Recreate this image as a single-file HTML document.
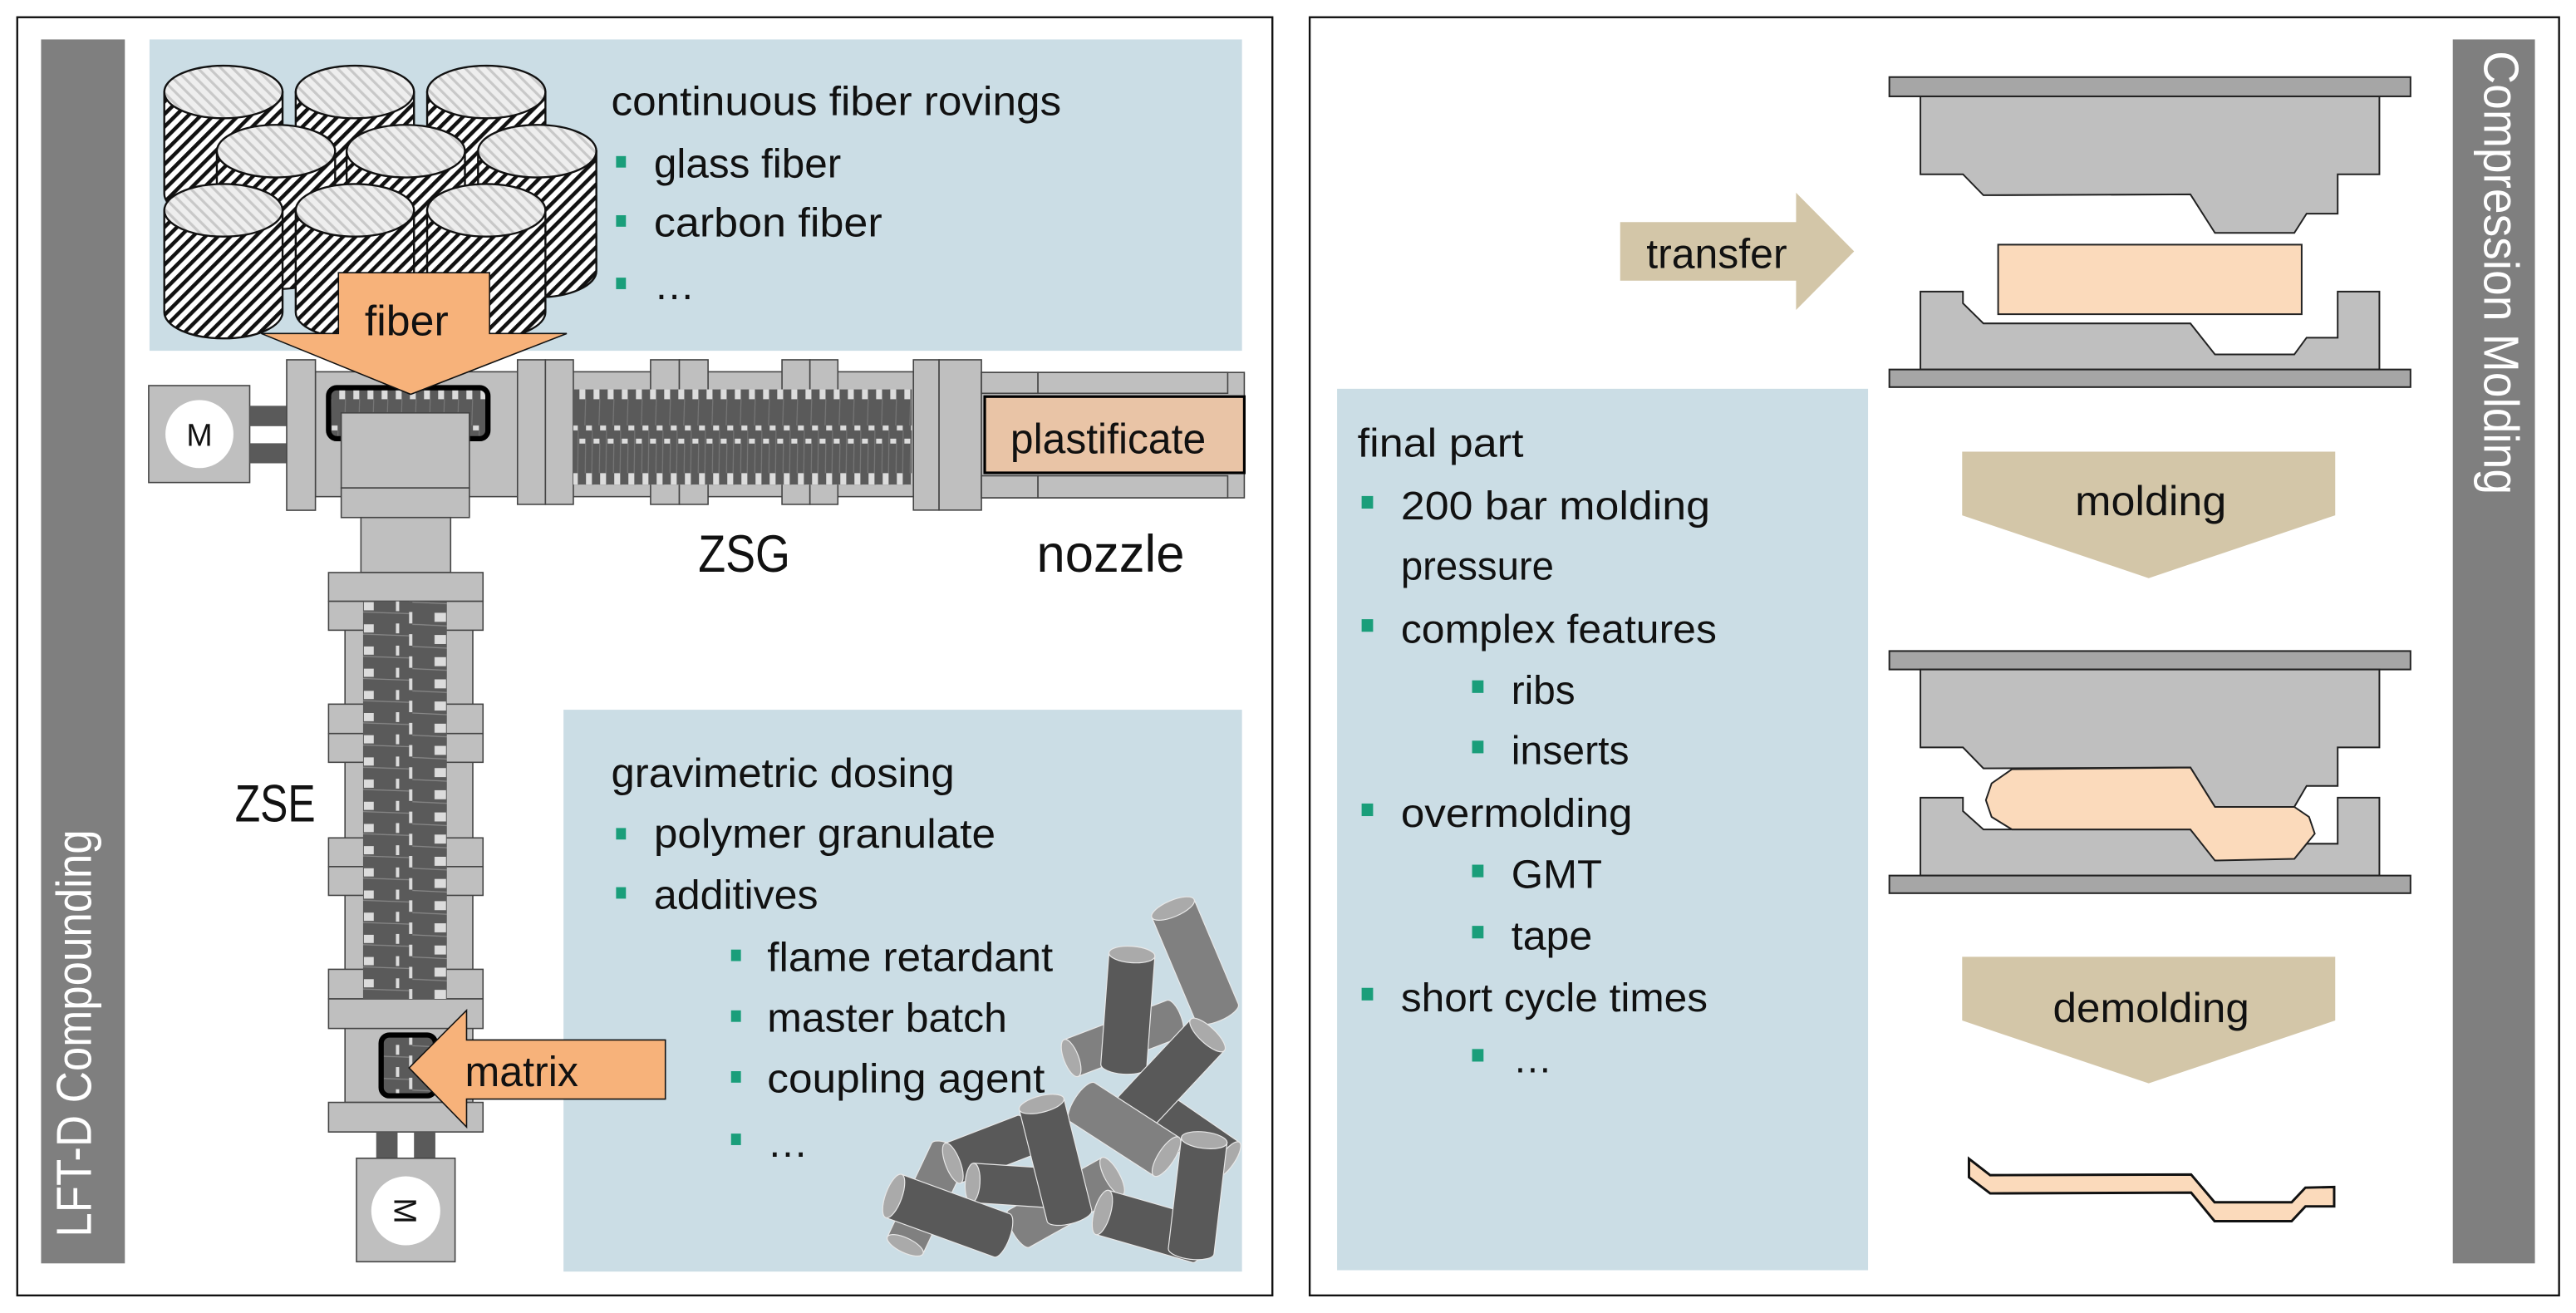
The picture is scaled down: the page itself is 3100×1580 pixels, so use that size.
<!DOCTYPE html>
<html><head><meta charset="utf-8"><style>
html,body{margin:0;padding:0;background:#fff}
svg{display:block}
text{font-family:"Liberation Sans",sans-serif;fill:#111}
</style></head><body>
<svg width="3100" height="1580" viewBox="0 0 1568 799.2" preserveAspectRatio="none" xmlns="http://www.w3.org/2000/svg">
<defs>
<pattern id="hatch" width="5.4" height="5.4" patternUnits="userSpaceOnUse" patternTransform="rotate(45)">
<rect width="5.4" height="5.4" fill="#fff"/><rect width="2.3" height="5.4" fill="#111"/></pattern>
<pattern id="hatchL" width="5" height="5" patternUnits="userSpaceOnUse" patternTransform="rotate(-45)">
<rect width="5" height="5" fill="#eeeeee"/><rect width="1.6" height="5" fill="#c8c8c8"/></pattern>
<pattern id="screwH" x="335" y="237" width="8.6" height="58" patternUnits="userSpaceOnUse">
<rect width="8.6" height="58" fill="#5a5a5a"/>
<rect x="0.5" y="0" width="3.6" height="6" fill="#dcdcdc"/>
<rect x="4.5" y="22" width="3.6" height="3" fill="#dcdcdc"/>
<rect x="0.5" y="30" width="3.6" height="3" fill="#dcdcdc"/>
<rect x="4.5" y="51" width="3.6" height="7" fill="#dcdcdc"/>
<path d="M4.3 6 L3.8 22 M8.4 25 L8 51 M4.3 33 L4 51" stroke="#777" stroke-width="0.6"/>
</pattern>
<pattern id="screwV" x="221" y="366" width="51" height="13.5" patternUnits="userSpaceOnUse">
<rect width="51" height="13.5" fill="#5a5a5a"/>
<rect x="0.5" y="0.5" width="6" height="5" fill="#dcdcdc"/>
<rect x="20" y="0" width="2" height="6" fill="#dcdcdc"/>
<rect x="43.5" y="7" width="7" height="5.5" fill="#dcdcdc"/>
<rect x="28" y="6.5" width="2" height="7" fill="#dcdcdc"/>
<path d="M0 6.5 L28 7.5 M30 0.5 L51 1.5" stroke="#888" stroke-width="0.6"/>
</pattern>
</defs>

<!-- ================= LEFT PANEL ================= -->
<rect x="10.5" y="10.5" width="764" height="778" fill="#fff" stroke="#111" stroke-width="1.2"/>
<rect x="25" y="24" width="51" height="745" fill="#7f7f7f"/>
<text transform="translate(55.5,753) rotate(-90)" font-size="30" fill="#fff" style="fill:#fff" textLength="248" lengthAdjust="spacingAndGlyphs">LFT-D Compounding</text>

<rect x="91" y="24" width="665" height="189.5" fill="#cbdde5"/>
<rect x="343" y="432" width="413" height="342" fill="#cbdde5"/>

<!-- top list -->
<text x="372" y="70" font-size="25" textLength="274" lengthAdjust="spacingAndGlyphs">continuous fiber rovings</text>
<rect x="375" y="95" width="6" height="7" fill="#1a9e7a"/>
<text x="398" y="108" font-size="25" textLength="114" lengthAdjust="spacingAndGlyphs">glass fiber</text>
<rect x="375" y="131" width="6" height="7" fill="#1a9e7a"/>
<text x="398" y="144" font-size="25" textLength="139" lengthAdjust="spacingAndGlyphs">carbon fiber</text>
<rect x="375" y="169" width="6" height="7" fill="#1a9e7a"/>
<text x="398" y="182" font-size="25">…</text>

<!-- bottom list -->
<text x="372" y="479" font-size="25" textLength="209" lengthAdjust="spacingAndGlyphs">gravimetric dosing</text>
<rect x="375" y="504" width="6" height="7" fill="#1a9e7a"/>
<text x="398" y="516" font-size="25" textLength="208" lengthAdjust="spacingAndGlyphs">polymer granulate</text>
<rect x="375" y="540" width="6" height="7" fill="#1a9e7a"/>
<text x="398" y="553" font-size="25" textLength="100" lengthAdjust="spacingAndGlyphs">additives</text>
<rect x="445" y="578" width="6" height="7" fill="#1a9e7a"/>
<text x="467" y="591" font-size="25" textLength="174" lengthAdjust="spacingAndGlyphs">flame retardant</text>
<rect x="445" y="615" width="6" height="7" fill="#1a9e7a"/>
<text x="467" y="628" font-size="25" textLength="146" lengthAdjust="spacingAndGlyphs">master batch</text>
<rect x="445" y="652" width="6" height="7" fill="#1a9e7a"/>
<text x="467" y="665" font-size="25" textLength="169" lengthAdjust="spacingAndGlyphs">coupling agent</text>
<rect x="445" y="690" width="6" height="7" fill="#1a9e7a"/>
<text x="467" y="704" font-size="25">…</text>

<!-- fiber cylinders -->
<g stroke="#111" stroke-width="1.2">
<!-- back row -->
<path d="M100 56 L100 118 A36 16 0 0 0 172 118 L172 56 Z" fill="url(#hatch)"/><ellipse cx="136" cy="56" rx="36" ry="16" fill="url(#hatchL)"/>
<path d="M180 56 L180 118 A36 16 0 0 0 252 118 L252 56 Z" fill="url(#hatch)"/><ellipse cx="216" cy="56" rx="36" ry="16" fill="url(#hatchL)"/>
<path d="M260 56 L260 118 A36 16 0 0 0 332 118 L332 56 Z" fill="url(#hatch)"/><ellipse cx="296" cy="56" rx="36" ry="16" fill="url(#hatchL)"/>
<!-- middle row -->
<path d="M132 92 L132 160 A36 16 0 0 0 204 160 L204 92 Z" fill="url(#hatch)"/><ellipse cx="168" cy="92" rx="36" ry="16" fill="url(#hatchL)"/>
<path d="M211 92 L211 160 A36 16 0 0 0 283 160 L283 92 Z" fill="url(#hatch)"/><ellipse cx="247" cy="92" rx="36" ry="16" fill="url(#hatchL)"/>
<path d="M291 92 L291 165 A36 16 0 0 0 363 165 L363 92 Z" fill="url(#hatch)"/><ellipse cx="327" cy="92" rx="36" ry="16" fill="url(#hatchL)"/>
<!-- front row -->
<path d="M100 128 L100 190 A36 16 0 0 0 172 190 L172 128 Z" fill="url(#hatch)"/><ellipse cx="136" cy="128" rx="36" ry="16" fill="url(#hatchL)"/>
<path d="M180 128 L180 190 A36 16 0 0 0 252 190 L252 128 Z" fill="url(#hatch)"/><ellipse cx="216" cy="128" rx="36" ry="16" fill="url(#hatchL)"/>
<path d="M260 128 L260 190 A36 16 0 0 0 332 190 L332 128 Z" fill="url(#hatch)"/><ellipse cx="296" cy="128" rx="36" ry="16" fill="url(#hatchL)"/>
</g>

<!-- horizontal extruder ZSG -->
<g stroke="#444" stroke-width="0.8" fill="#bfbfbf">
<rect x="90.5" y="234.7" width="61.5" height="59"/>
<rect x="152" y="247" width="22.5" height="12.4" fill="#5a5a5a" stroke="none"/>
<rect x="152" y="269.8" width="22.5" height="12.2" fill="#5a5a5a" stroke="none"/>
<rect x="192" y="226.3" width="124" height="76"/>
<rect x="174.5" y="219" width="17.5" height="91.6"/>
<rect x="332" y="226.3" width="224" height="76"/>
<rect x="315" y="219" width="17" height="88"/>
<rect x="332" y="219" width="17" height="88"/>
<rect x="396" y="219" width="17.5" height="88"/>
<rect x="413.5" y="219" width="17.5" height="88"/>
<rect x="476" y="219" width="17" height="88"/>
<rect x="493" y="219" width="17" height="88"/>
<rect x="556" y="219" width="15.6" height="91.5"/>
<rect x="571.6" y="219" width="25.8" height="91.5"/>
<rect x="597.4" y="226.7" width="160" height="76.3"/>
<rect x="597.4" y="226.7" width="34.4" height="12.7"/>
<rect x="631.8" y="226.7" width="115.5" height="12.7"/>
<rect x="597.4" y="289.6" width="34.4" height="13.4"/>
<rect x="631.8" y="289.6" width="115.5" height="13.4"/>
</g>
<ellipse cx="121.4" cy="264.2" rx="20.7" ry="20.7" fill="#fff"/>
<text x="121.4" y="271.5" font-size="19" text-anchor="middle">M</text>
<rect x="349" y="237" width="206" height="58" fill="url(#screwH)"/>
<rect x="200" y="236" width="97" height="31" rx="5" fill="url(#screwH)" stroke="#000" stroke-width="3.2"/>
<rect x="599.4" y="241.4" width="158" height="46.4" fill="#e9c4a6" stroke="#000" stroke-width="1.6"/>
<text x="615" y="276" font-size="26" textLength="119" lengthAdjust="spacingAndGlyphs">plastificate</text>

<!-- feed block and connection -->
<g stroke="#444" stroke-width="0.8" fill="#bfbfbf">
<rect x="207.7" y="251.3" width="78" height="45.7"/>
<rect x="207.7" y="297" width="78" height="18"/>
<rect x="219.7" y="315" width="54.6" height="33.5"/>
<!-- vertical ZSE -->
<rect x="210" y="366" width="77.8" height="305"/>
<rect x="200" y="348.5" width="94" height="17.5"/>
<rect x="200" y="366" width="94" height="17.6"/>
<rect x="200" y="428.6" width="94" height="17.9"/>
<rect x="200" y="446.5" width="94" height="17.5"/>
<rect x="200" y="510" width="94" height="17.5"/>
<rect x="200" y="527.5" width="94" height="17.5"/>
<rect x="200" y="590" width="94" height="18"/>
<rect x="200" y="608" width="94" height="18"/>
<rect x="200" y="671" width="94" height="18"/>
<rect x="229" y="689" width="13" height="16" fill="#5a5a5a" stroke="none"/>
<rect x="252" y="689" width="13" height="16" fill="#5a5a5a" stroke="none"/>
<rect x="217" y="705" width="60" height="63"/>
</g>
<rect x="221" y="366" width="51" height="242" fill="url(#screwV)"/>
<rect x="232" y="630" width="33" height="37" rx="5" fill="url(#screwV)" stroke="#000" stroke-width="3.2"/>
<ellipse cx="247" cy="737" rx="21" ry="21" fill="#fff"/>
<text transform="translate(240,737) rotate(90)" font-size="19" text-anchor="middle">M</text>

<!-- labels -->
<text x="425" y="348" font-size="32" textLength="56" lengthAdjust="spacingAndGlyphs">ZSG</text>
<text x="631" y="348" font-size="32" textLength="90" lengthAdjust="spacingAndGlyphs">nozzle</text>
<text x="143" y="500" font-size="32" textLength="49" lengthAdjust="spacingAndGlyphs">ZSE</text>

<!-- fiber arrow -->
<polygon points="206,166 298,166 298,203 345,203 250,240 159,203 206,203" fill="#f7b27a" stroke="#111" stroke-width="0.8"/>
<text x="222" y="204" font-size="26" textLength="51" lengthAdjust="spacingAndGlyphs">fiber</text>
<!-- matrix arrow -->
<polygon points="249,650 284,615 284,633 405,633 405,669 284,669 284,686" fill="#f7b27a" stroke="#111" stroke-width="0.8"/>
<text x="283" y="661" font-size="26" textLength="69" lengthAdjust="spacingAndGlyphs">matrix</text>

<!-- granules -->
<g stroke="#e8e8e8" stroke-width="0.6">
<g transform="translate(652,644) rotate(-20.9)"><path d="M0 -12 L67 -12 A4.5 12 0 0 1 67 12 L0 12 Z" fill="#808080"/><ellipse cx="0" cy="0" rx="4.5" ry="12" fill="#aaa"/></g>
<g transform="translate(714,553) rotate(67.1)"><path d="M0 -14 L69 -14 A5 14 0 0 1 69 14 L0 14 Z" fill="#808080"/><ellipse cx="0" cy="0" rx="5" ry="14" fill="#aaa"/></g>
<g transform="translate(689,581) rotate(94.2)"><path d="M0 -14 L68 -14 A5 14 0 0 1 68 14 L0 14 Z" fill="#595959"/><ellipse cx="0" cy="0" rx="5" ry="14" fill="#aaa"/></g>
<g transform="translate(705,677) rotate(34.6)"><path d="M0 -13 L51 -13 A4.5 13 0 0 1 51 13 L0 13 Z" fill="#595959"/><ellipse cx="51" cy="0" rx="4.5" ry="13" fill="#aaa"/></g>
<g transform="translate(735,630) rotate(133.1)"><path d="M0 -14 L64 -14 A5 14 0 0 1 64 14 L0 14 Z" fill="#595959"/><ellipse cx="0" cy="0" rx="5" ry="14" fill="#aaa"/></g>
<g transform="translate(710,704) rotate(212.9)"><path d="M0 -14 L61 -14 A5 14 0 0 1 61 14 L0 14 Z" fill="#808080"/><ellipse cx="0" cy="0" rx="5" ry="14" fill="#aaa"/></g>
<g transform="translate(551,758) rotate(-64.7)"><path d="M0 -12 L63 -12 A4.5 12 0 0 1 63 12 L0 12 Z" fill="#808080"/><ellipse cx="0" cy="0" rx="4.5" ry="12" fill="#aaa"/></g>
<g transform="translate(580,708) rotate(-21.1)"><path d="M0 -13 L47 -13 A4.5 13 0 0 1 47 13 L0 13 Z" fill="#595959"/><ellipse cx="0" cy="0" rx="4.5" ry="13" fill="#aaa"/></g>
<g transform="translate(677,716) rotate(150.7)"><path d="M0 -13 L65 -13 A4.5 13 0 0 1 65 13 L0 13 Z" fill="#808080"/><ellipse cx="0" cy="0" rx="4.5" ry="13" fill="#aaa"/></g>
<g transform="translate(592,720) rotate(3.8)"><path d="M0 -12 L45 -12 A4.5 12 0 0 1 45 12 L0 12 Z" fill="#595959"/><ellipse cx="0" cy="0" rx="4.5" ry="12" fill="#aaa"/></g>
<g transform="translate(544,728) rotate(20)"><path d="M0 -14 L70 -14 A5 14 0 0 1 70 14 L0 14 Z" fill="#595959"/><ellipse cx="0" cy="0" rx="5" ry="14" fill="#aaa"/></g>
<g transform="translate(634,672) rotate(76)"><path d="M0 -14 L70 -14 A5 14 0 0 1 70 14 L0 14 Z" fill="#595959"/><ellipse cx="0" cy="0" rx="5" ry="14" fill="#aaa"/></g>
<g transform="translate(671,738) rotate(16.1)"><path d="M0 -14 L61 -14 A5 14 0 0 1 61 14 L0 14 Z" fill="#595959"/><ellipse cx="0" cy="0" rx="5" ry="14" fill="#aaa"/></g>
<g transform="translate(733,694) rotate(96.7)"><path d="M0 -14 L68 -14 A5 14 0 0 1 68 14 L0 14 Z" fill="#595959"/><ellipse cx="0" cy="0" rx="5" ry="14" fill="#aaa"/></g>
</g>

<!-- ================= RIGHT PANEL ================= -->
<rect x="797.2" y="10.5" width="760.5" height="778" fill="#fff" stroke="#111" stroke-width="1.2"/>
<rect x="1493" y="24" width="50" height="745" fill="#7f7f7f"/>
<text transform="translate(1512,31) rotate(90)" font-size="30" style="fill:#fff" textLength="270" lengthAdjust="spacingAndGlyphs">Compression Molding</text>

<g transform="translate(784,0) scale(0.498,0.51)">
<rect x="60" y="464" width="649" height="1052" fill="#cbdde5"/>
<g font-size="48">
<text x="85" y="545" textLength="203" lengthAdjust="spacingAndGlyphs">final part</text>
<rect x="90" y="592" width="14" height="15" fill="#1a9e7a"/>
<text x="138" y="620" textLength="378" lengthAdjust="spacingAndGlyphs">200 bar molding</text>
<text x="138" y="692" textLength="187" lengthAdjust="spacingAndGlyphs">pressure</text>
<rect x="90" y="739" width="14" height="15" fill="#1a9e7a"/>
<text x="138" y="767" textLength="386" lengthAdjust="spacingAndGlyphs">complex features</text>
<rect x="225" y="812" width="14" height="15" fill="#1a9e7a"/>
<text x="273" y="840" textLength="78" lengthAdjust="spacingAndGlyphs">ribs</text>
<rect x="225" y="884" width="14" height="15" fill="#1a9e7a"/>
<text x="273" y="912" textLength="144" lengthAdjust="spacingAndGlyphs">inserts</text>
<rect x="90" y="959" width="14" height="15" fill="#1a9e7a"/>
<text x="138" y="987" textLength="283" lengthAdjust="spacingAndGlyphs">overmolding</text>
<rect x="225" y="1032" width="14" height="15" fill="#1a9e7a"/>
<text x="273" y="1060" textLength="111" lengthAdjust="spacingAndGlyphs">GMT</text>
<rect x="225" y="1105" width="14" height="15" fill="#1a9e7a"/>
<text x="273" y="1133" textLength="99" lengthAdjust="spacingAndGlyphs">tape</text>
<rect x="90" y="1179" width="14" height="15" fill="#1a9e7a"/>
<text x="138" y="1207" textLength="375" lengthAdjust="spacingAndGlyphs">short cycle times</text>
<rect x="225" y="1252" width="14" height="15" fill="#1a9e7a"/>
<text x="275" y="1280">…</text>
</g>

<!-- transfer arrow -->
<polygon points="406,265 621,265 621,230 692,300 621,370 621,335 406,335" fill="#d3c6a8"/>
<text x="438" y="320" font-size="50" textLength="172" lengthAdjust="spacingAndGlyphs">transfer</text>
<!-- molding arrows -->
<polygon points="824,539 1280,539 1280,615 1052,690 824,615" fill="#d3c6a8"/>
<text x="962" y="615" font-size="50" textLength="185" lengthAdjust="spacingAndGlyphs">molding</text>
<polygon points="824,1142 1280,1142 1280,1218 1052,1293 824,1218" fill="#d3c6a8"/>
<text x="935" y="1220" font-size="50" textLength="240" lengthAdjust="spacingAndGlyphs">demolding</text>

<!-- mold 1 -->
<g stroke="#222" stroke-width="2">
<rect x="735" y="92" width="637" height="23" fill="#a6a6a6"/>
<polygon points="773,115 1334,115 1334,208 1283,208 1283,255 1245,255 1230,278 1133,278 1103,232 850,233 825,208 773,208" fill="#bfbfbf"/>
<rect x="868" y="292" width="371" height="83" fill="#fbdabb"/>
<polygon points="773,441 773,348 825,348 825,362 850,386 1103,386 1133,423 1230,423 1245,403 1283,403 1283,348 1334,348 1334,441" fill="#bfbfbf"/>
<rect x="735" y="441" width="637" height="21" fill="#a6a6a6"/>
<!-- mold 2 -->
<rect x="735" y="777" width="637" height="22" fill="#a6a6a6"/>
<polygon points="773,799 1334,799 1334,892 1283,892 1283,938 1245,938 1230,963 1133,963 1103,916 850,917 825,892 773,892" fill="#bfbfbf"/>
<polygon points="773,1045 773,952 825,952 825,968 850,990 1103,990 1133,1025 1230,1025 1245,1007 1283,1007 1283,952 1334,952 1334,1045" fill="#bfbfbf"/>
<polygon points="860,935 885,918 1103,916 1133,963 1230,963 1248,975 1255,995 1230,1025 1133,1027 1103,990 885,990 860,975 853,955" fill="#fbdabb"/>
<rect x="735" y="1045" width="637" height="21" fill="#a6a6a6"/>
</g>
</g>
<!-- final part -->
<polygon points="1198.5,705.3 1211.4,715.3 1333.7,714.9 1348,731.8 1394.9,731.8 1403.3,722.9 1420.8,722.5 1420.8,734.3 1403.3,734.3 1394.9,743.3 1348,743.3 1333.7,725.9 1211.4,726.4 1198.5,716.6" fill="#fbdabb" stroke="#111" stroke-width="1.5"/>
</svg>
</body></html>
